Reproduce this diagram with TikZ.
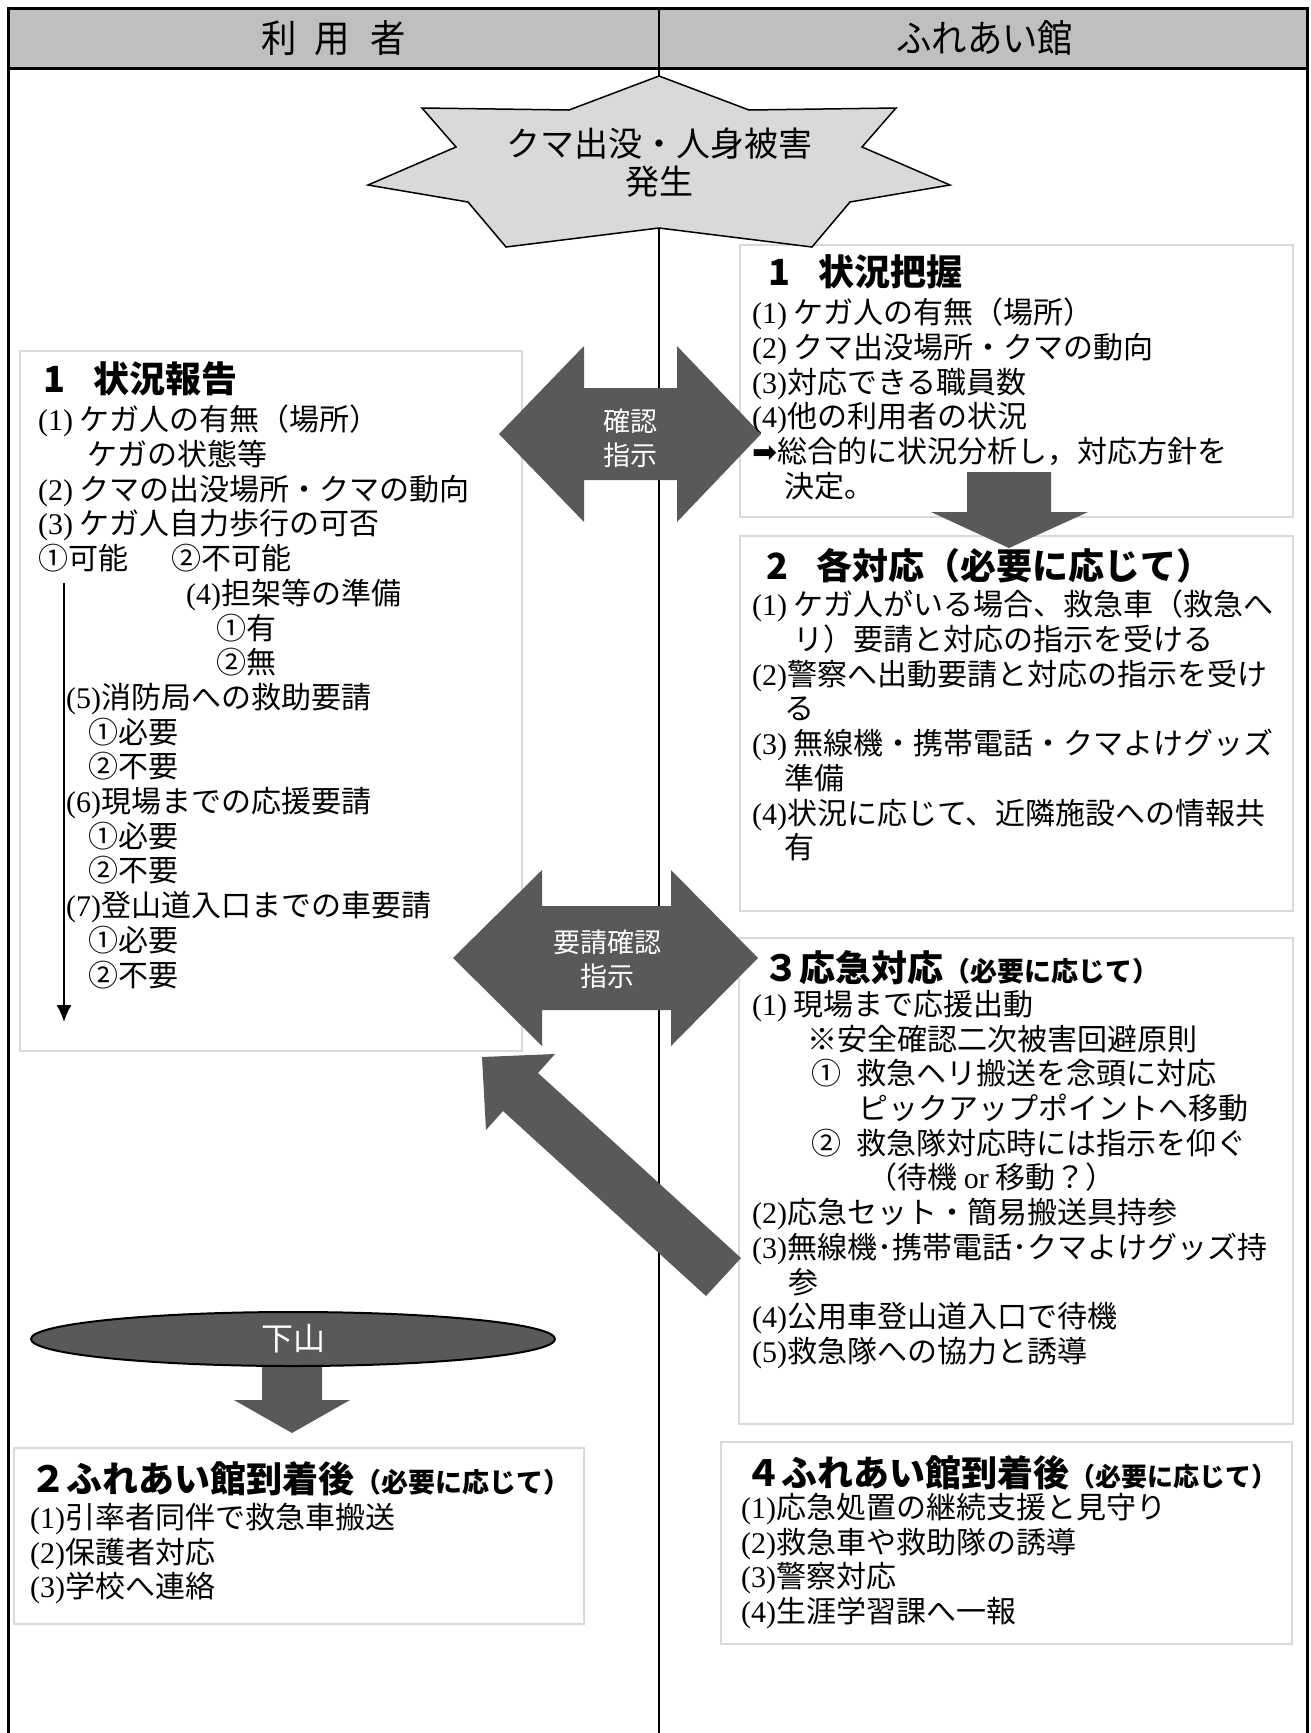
\documentclass[tikz,border=0pt]{standalone}
\usepackage{fontspec}
\setmainfont{Noto Sans CJK JP}
\newfontfamily\numf{Liberation Serif}
\newfontfamily\symf{DejaVu Sans}
\usetikzlibrary{shapes.geometric,arrows.meta}
\definecolor{hdrgray}{gray}{0.75}
\definecolor{stargray}{gray}{0.85}
\definecolor{arrgray}{HTML}{595959}
\definecolor{boxline}{HTML}{D9D9D9}
\newcommand\pnum[1]{{\numf(#1)}}
\tikzset{
  hdrcell/.style={anchor=north west, inner sep=0pt, minimum width=651pt, minimum height=60pt, font=\fontsize{38pt}{42pt}\selectfont},
  panel/.style={anchor=north west, draw=boxline, line width=2pt, fill=white, inner sep=0pt},
  body/.style={anchor=north west, inner sep=0pt, align=left, font=\fontsize{30pt}{34.7pt}\selectfont},
  ttl/.style={anchor=west, inner sep=0pt, font=\fontsize{36pt}{40pt}\selectfont\bfseries},
  arrtxt/.style={text=white, align=center, inner sep=0pt, font=\fontsize{27pt}{34pt}\selectfont},
  blockarrow/.style={fill=arrgray},
  frameline/.style={line width=3pt},
}
\begin{document}
\begin{tikzpicture}[x=1pt,y=-1pt]
\useasboundingbox (0,0) rectangle (1311,1733);
\fill[white] (0,0) rectangle (1311,1733);
% header
\fill[hdrgray] (8,8) rectangle (1307,68);
\node[hdrcell] (h1) at (8,8) {\scalebox{0.93}[1]{利\hspace{0.5em}用\hspace{0.6em}者}};
\node[hdrcell] (h2) at (659,8) {\scalebox{0.93}[1]{ふれあい館}};
\draw[frameline] (8,1733) -- (8,8) -- (1307,8) -- (1307,1733);
\draw[frameline] (8,68) -- (1307,68);
\draw[line width=1.5pt] (659,8) -- (659,1733);

% panels
\node[panel, minimum width=502pt, minimum height=700pt] (lb1) at (19,350) {};
\node[panel, minimum width=553pt, minimum height=272pt] (rb1) at (739,244) {};
\node[panel, minimum width=553pt, minimum height=375pt] (rb2) at (739,535) {};
\node[panel, minimum width=554pt, minimum height=486pt] (rb3) at (738,937) {};
\node[panel, minimum width=571pt, minimum height=202pt] (rb4) at (720,1441) {};
\node[panel, minimum width=570pt, minimum height=176pt] (lb2) at (13,1447) {};

% star
\coordinate (s1) at (659,76);
\coordinate (s2) at (749,110);
\coordinate (s3) at (896,108);
\coordinate (s4) at (862,147);
\coordinate (s5) at (950,185);
\coordinate (s6) at (850,202);
\coordinate (s7) at (812,247);
\coordinate (s8) at (659,228);
\coordinate (s9) at (506,247);
\coordinate (s10) at (468,202);
\coordinate (s11) at (368,185);
\coordinate (s12) at (456,147);
\coordinate (s13) at (422,108);
\coordinate (s14) at (569,110);
\draw[fill=stargray, line width=1.5pt, line join=miter] (s1) -- (s2) -- (s3) -- (s4) -- (s5) -- (s6) -- (s7) -- (s8) -- (s9) -- (s10) -- (s11) -- (s12) -- (s13) -- (s14) -- cycle;
\node[align=center, inner sep=0pt, font=\fontsize{34pt}{38pt}\selectfont] (startxt) at (659,163) {クマ出没・人身被害\\発生};

% double arrow 1
\coordinate (a1L) at (499,434);
\coordinate (a1R) at (761,434);
\fill[blockarrow] (a1L) -- (584,346) -- (584,388) -- (677,388) -- (677,346) -- (a1R) -- (677,522) -- (677,480) -- (584,480) -- (584,522) -- cycle;
\node[arrtxt] (a1t) at (630,438) {確認\\指示};

% double arrow 2
\coordinate (a2L) at (453,958);
\coordinate (a2R) at (758,958);
\fill[blockarrow] (a2L) -- (542,870) -- (542,906) -- (671,906) -- (671,870) -- (a2R) -- (671,1046) -- (671,1010) -- (542,1010) -- (542,1046) -- cycle;
\node[arrtxt] (a2t) at (607,959) {要請確認\\指示};

% diagonal arrow
\coordinate (dtip) at (482,1057);
\coordinate (dtail) at (724,1277);
\fill[blockarrow] (dtip) -- (555,1054) -- (538,1073) -- (741,1258) -- (706,1296) -- (503,1111) -- (486,1130) -- cycle;

% down arrow right
\coordinate (d1top) at (1009,472);
\coordinate (d1tip) at (1009,548);
\fill[blockarrow] (967,472) -- (1051,472) -- (1051,512) -- (1088,512) -- (d1tip) -- (931,512) -- (967,512) -- cycle;

% down arrow left + ellipse
\coordinate (d2tip) at (292,1433);
\fill[blockarrow] (262,1339) -- (322,1339) -- (322,1400) -- (350,1400) -- (d2tip) -- (234,1400) -- (262,1400) -- cycle;
\node[ellipse, draw, line width=2pt, fill=arrgray, minimum width=524pt, minimum height=54pt, inner sep=0pt, text=white, font=\fontsize{32pt}{36pt}\selectfont] (gesan) at (293,1339) {下山};

% vertical thin arrow in left panel
\coordinate (va1) at (64,583);
\coordinate (va2) at (64,1022);
\draw[line width=1.5pt, -{Latex[length=17pt,width=15pt]}] (va1) -- (va2);

% texts: left panel 1
\node[ttl] (lb1t) at (43,379) {1\hspace{0.8em}状況報告};
\node[body] (lb1b) at (38,405) {%
\pnum{1} ケガ人の有無（場所）\\
\hspace*{49pt}ケガの状態等\\
\pnum{2} クマの出没場所・クマの動向\\
\pnum{3} ケガ人自力歩行の可否\\
①可能\hspace{43pt}②不可能\\
\hspace*{148pt}\pnum{4}担架等の準備\\
\hspace*{178pt}①有\\
\hspace*{178pt}②無\\
\hspace*{28pt}\pnum{5}消防局への救助要請\\
\hspace*{50pt}①必要\\
\hspace*{50pt}②不要\\
\hspace*{28pt}\pnum{6}現場までの応援要請\\
\hspace*{50pt}①必要\\
\hspace*{50pt}②不要\\
\hspace*{28pt}\pnum{7}登山道入口までの車要請\\
\hspace*{50pt}①必要\\
\hspace*{50pt}②不要};

% right panel 1
\node[ttl] (rb1t) at (768,272) {1\hspace{0.8em}状況把握};
\node[body] (rb1b) at (752,298) {%
\pnum{1} ケガ人の有無（場所）\\
\pnum{2} クマ出没場所・クマの動向\\
\pnum{3}対応できる職員数\\
\pnum{4}他の利用者の状況\\
{\symf ➡}総合的に状況分析し，対応方針を\\
\hspace*{32pt}決定。};

% right panel 2
\node[ttl] (rb2t) at (766,566) {2\hspace{0.8em}各対応（必要に応じて）};
\node[body] (rb2b) at (752,590) {%
\pnum{1} ケガ人がいる場合、救急車（救急へ\\
\hphantom{\pnum{1} }リ）要請と対応の指示を受ける\\
\pnum{2}警察へ出動要請と対応の指示を受け\\
\hspace*{32pt}る\\
\pnum{3} 無線機・携帯電話・クマよけグッズ\\
\hspace*{32pt}準備\\
\pnum{4}状況に応じて、近隣施設への情報共\\
\hspace*{32pt}有};

% right panel 3
\node[ttl] (rb3t) at (763,968) {３応急対応{\fontsize{27pt}{30pt}\selectfont（必要に応じて）}};
\node[body] (rb3b) at (752,990) {%
\pnum{1} 現場まで応援出動\\
\hspace*{55pt}※安全確認二次被害回避原則\\
\hspace*{59pt}①\hspace{15pt}救急ヘリ搬送を念頭に対応\\
\hspace*{106pt}ピックアップポイントへ移動\\
\hspace*{59pt}②\hspace{15pt}救急隊対応時には指示を仰ぐ\\
\hspace*{115pt}（待機 {\numf or} 移動？）\\
\pnum{2}応急セット・簡易搬送具持参\\
\pnum{3}無線機･携帯電話･クマよけグッズ持\\
\hspace*{36pt}参\\
\pnum{4}公用車登山道入口で待機\\
\pnum{5}救急隊への協力と誘導};

% right panel 4
\node[ttl] (rb4t) at (745,1473) {４ふれあい館到着後{\fontsize{26pt}{30pt}\selectfont（必要に応じて）}};
\node[body] (rb4b) at (741,1493) {%
\pnum{1}応急処置の継続支援と見守り\\
\pnum{2}救急車や救助隊の誘導\\
\pnum{3}警察対応\\
\pnum{4}生涯学習課へ一報};

% left panel 2
\node[ttl] (lb2t) at (30,1479) {２ふれあい館到着後{\fontsize{27pt}{30pt}\selectfont（必要に応じて）}};
\node[body] (lb2b) at (30,1503) {%
\pnum{1}引率者同伴で救急車搬送\\
\pnum{2}保護者対応\\
\pnum{3}学校へ連絡};
\end{tikzpicture}
\end{document}
